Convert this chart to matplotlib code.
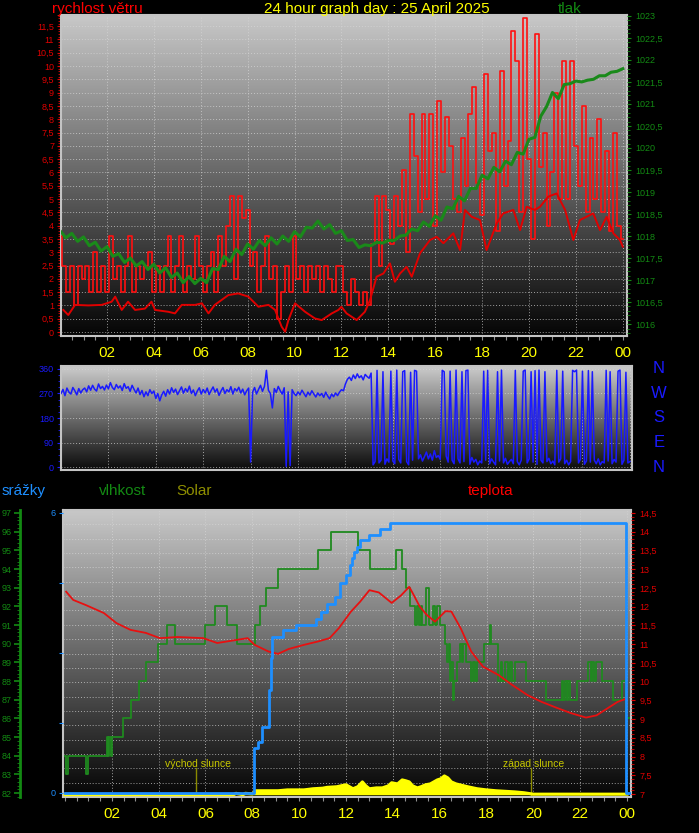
"""
24 hour weather station graph: wind, pressure, wind direction, rain, humidity, temperature, solar.
"""

import numpy as np
import matplotlib
matplotlib.use('Agg')
import matplotlib.pyplot as plt
from matplotlib.colors import LinearSegmentedColormap
from matplotlib.ticker import MultipleLocator, FuncFormatter, FixedLocator
from matplotlib.transforms import blended_transform_factory

plt.rcParams['font.family'] = ['Liberation Sans', 'DejaVu Sans']

W, H = 699, 833

# ---------------- data ----------------
# wind gusts, one value every 10 minutes, 00:00 .. 24:00
gust = [3.6, 2.5, 1.5, 2.5, 1.0, 2.5,
        2.0, 2.5, 1.5, 3.0, 1.5, 2.5,
        1.5, 3.6, 2.0, 2.5, 1.5, 2.5,
        3.6, 1.5, 2.5, 2.0, 2.5, 3.0,
        1.5, 2.5, 1.5, 2.5, 3.6, 1.5,
        2.5, 3.6, 1.5, 2.5, 2.0, 3.6,
        2.5, 1.5, 2.5, 3.0, 1.5, 3.6,
        2.5, 4.0, 5.1, 2.0, 5.1, 4.3,
        4.6, 2.5, 3.0, 1.5, 2.5, 3.6,
        2.0, 2.5, 0.5, 1.5, 2.5, 1.5,
        3.6, 2.0, 2.5, 1.5, 2.5, 2.0,
        2.5, 1.5, 2.5, 2.0, 1.5, 2.5,
        2.5, 1.5, 1.0, 2.0, 1.5, 1.0,
        1.5, 1.0, 3.3, 5.1, 2.5, 5.1,
        4.6, 3.3, 5.1, 4.0, 6.1, 3.0,
        8.2, 6.6, 4.5, 8.2, 5.0, 8.2,
        4.0, 8.7, 6.0, 8.1, 7.0, 5.0,
        4.5, 7.3, 5.5, 8.2, 9.2, 5.6,
        4.4, 9.7, 6.8, 7.5, 3.8, 9.8,
        5.5, 7.2, 11.3, 10.2, 4.5, 11.8,
        6.5, 3.5, 11.2, 6.2, 7.5, 4.0,
        6.0, 9.0, 5.0, 10.2, 5.0, 10.2,
        7.0, 5.5, 8.5, 4.5, 7.3, 5.0,
        8.0, 4.5, 6.8, 3.8, 7.5, 4.0,
        3.5]

# average wind speed
avg_hours = [0.14, 0.35, 0.64, 1.2, 1.78, 2.2, 2.35, 2.63, 2.9, 3.2, 3.62, 3.9, 4.05,
             4.62, 4.9, 5.19, 5.76, 6.05, 6.33, 6.6, 7.18, 7.6, 8.03, 8.46, 8.89, 9.17,
             9.45, 9.6, 9.74, 10.02, 10.45, 10.87, 11.16, 11.59, 11.87, 12.0, 12.22,
             12.65, 13.0, 13.22, 13.5, 13.79, 14.07, 14.28, 14.5, 14.78, 15.0, 15.35,
             15.78, 16.06, 16.35, 16.77, 17.06, 17.27, 17.56, 17.91, 18.19, 18.62, 18.9,
             19.33, 19.62, 19.9, 20.25, 20.47, 20.82, 21.18, 21.54, 21.89, 22.17, 22.74,
             23.03, 23.31, 23.6, 23.88, 24.0]
avg_speed = [0.83, 0.64, 1.02, 1.0, 1.02, 1.14, 1.33, 0.83, 1.14, 0.83, 0.88, 1.14, 0.83,
             0.76, 0.7, 1.02, 1.02, 1.08, 0.7, 1.02, 1.39, 1.45, 1.33, 0.95, 1.02, 0.83,
             0.2, 0.01, 0.45, 1.08, 0.76, 0.51, 0.45, 0.7, 0.83, 0.95, 0.7,
             0.45, 0.76, 1.2, 2.08, 2.2, 2.58, 1.89, 2.2, 2.45, 2.08, 2.96,
             3.46, 3.58, 3.34, 3.71, 3.08, 4.59, 4.33, 4.21, 3.08, 4.08, 4.46,
             4.59, 3.83, 4.71, 4.59, 4.71, 5.09, 5.21, 4.59, 3.46, 4.21, 4.46,
             3.83, 4.33, 3.71, 3.46, 3.21]

# pressure, one value every 15 minutes
pressure = [1018.12, 1017.96, 1018.06, 1017.88, 1017.98, 1017.78, 1017.86, 1017.66,
            1017.76, 1017.54, 1017.60, 1017.40, 1017.50, 1017.32, 1017.42, 1017.24,
            1017.36, 1017.16, 1017.28, 1017.06, 1017.16, 1016.94, 1017.08, 1016.92,
            1017.04, 1016.94, 1017.26, 1017.24, 1017.54, 1017.42, 1017.70, 1017.58,
            1017.82, 1017.70, 1017.90, 1017.78, 1017.96, 1017.82, 1018.00, 1017.88,
            1018.10, 1017.98, 1018.20, 1018.18, 1018.34, 1018.16, 1018.26, 1018.06,
            1018.12, 1017.90, 1017.92, 1017.74, 1017.80, 1017.78, 1017.86, 1017.84,
            1017.90, 1017.90, 1018.00, 1018.02, 1018.16, 1018.12, 1018.32, 1018.22,
            1018.46, 1018.36, 1018.66, 1018.62, 1018.90, 1018.80, 1019.08, 1019.08,
            1019.38, 1019.30, 1019.56, 1019.46, 1019.70, 1019.62, 1019.90, 1019.86,
            1020.20, 1020.24, 1020.72, 1020.94, 1021.26, 1021.12, 1021.44, 1021.46,
            1021.52, 1021.50, 1021.54, 1021.56, 1021.64, 1021.64, 1021.72, 1021.74,
            1021.80]

# wind direction in degrees, one value every 5 minutes
direction = [270, 285, 262, 290, 275, 268, 292, 280, 265, 288, 272, 284,
             290, 276, 298, 282, 300, 286, 279, 305, 288, 296, 283, 301,
             287, 310, 292, 284, 303, 290, 298, 281, 306, 289, 295, 278,
             300, 285, 272, 290, 266, 281, 258, 276, 262, 284, 270, 279,
             252, 270, 243, 265, 278, 260, 284, 268, 291, 274, 286, 266,
             280, 294, 271, 288, 276, 297, 270, 283, 262, 279, 291, 268,
             285, 272, 290, 266, 281, 294, 275, 287, 263, 279, 292, 270,
             284, 276, 295, 268, 288, 279, 293, 272, 286, 265, 280, 290,
             18, 275, 292, 268, 285, 300, 278, 296, 355, 282, 270, 217,
             288, 274, 296, 280, 268, 291, 2, 276, 5, 284, 270, 262,
             276, 265, 282, 270, 258, 275, 264, 280, 268, 257, 272, 262,
             270, 256, 275, 261, 250, 268, 258, 272, 262, 275, 284, 280,
             305, 322, 330, 318, 338, 325, 342, 328, 335, 320, 340, 332,
             326, 345, 8, 20, 355, 15, 25, 350, 10, 30, 18, 352,
             22, 12, 356, 28, 15, 350, 354, 20, 8, 348, 25, 355,
             352, 30, 45, 22, 38, 55, 30, 48, 25, 60, 35, 42,
             28, 355, 350, 40, 18, 352, 25, 12, 356, 30, 15, 350,
             20, 354, 356, 10, 35, 18, 28, 8, 22, 15, 352, 25,
             355, 12, 30, 18, 8, 350, 22, 356, 15, 32, 10, 20,
             28, 12, 355, 20, 8, 25, 352, 356, 15, 30, 350, 18,
             354, 10, 356, 25, 15, 350, 20, 32, 12, 22, 8, 355,
             18, 30, 352, 12, 25, 8, 20, 355, 350, 356, 15, 28,
             352, 10, 22, 354, 18, 350, 25, 12, 30, 8, 20, 15,
             355, 22, 350, 12, 28, 18, 352, 356, 10, 25, 348, 15,
             20]

# humidity (%), value holds from the given hour on
hum_hours = [0.0, 0.05, 0.12, 0.9, 1.0, 1.8, 1.85, 1.9, 1.95, 2.0,
             2.46, 2.8, 3.16, 3.44, 3.97, 4.34, 4.7, 5.97, 6.39, 6.9,
             7.35, 8.1, 8.33, 8.57, 9.08, 10.8, 11.37, 12.5, 13.03, 14.15,
             14.4, 14.55, 14.75, 14.94, 15.05, 15.1, 15.2, 15.25, 15.4, 15.55,
             15.7, 15.8, 15.9, 16.0, 16.23, 16.3, 16.38, 16.45, 16.5, 16.57,
             16.62, 16.72, 16.88, 16.95, 17.0, 17.11, 17.35, 17.42, 17.5, 17.58,
             17.89, 18.15, 18.2, 18.51, 18.6, 18.68, 18.78, 18.9, 19.0, 19.1,
             19.2, 19.68, 20.53, 21.23, 21.28, 21.35, 21.42, 21.5, 21.58, 21.85,
             22.32, 22.45, 22.52, 22.6, 22.68, 22.94, 23.41, 23.8, 23.95, 24.1]
hum_vals = [84, 83, 84, 83, 84, 85, 84, 85, 84, 85,
            86, 87, 88, 89, 90, 91, 90, 91, 92, 91,
            90, 91, 92, 93, 94, 95, 96, 95, 94, 95,
            94, 93, 92, 91, 92, 91, 92, 91, 93, 91,
            92, 91, 92, 91, 90, 89, 90, 88, 89, 87,
            88, 89, 90, 89, 90, 89, 88, 89, 88, 89,
            90, 91, 90, 88, 89, 88, 89, 88, 89, 88,
            89, 88, 87, 88, 87, 88, 87, 88, 87, 88,
            89, 88, 89, 88, 89, 88, 87, 88, 86, 86]

# temperature (deg C)
temp_hours = [0.05, 0.35, 0.9, 1.66, 2.2, 2.8, 3.45, 4.05, 4.8, 5.9,
              6.5, 7.2, 7.8, 8.1, 8.7, 9.1, 9.55, 10.2, 10.8, 11.3,
              11.7, 12.2, 12.6, 13.0, 13.4, 13.95, 14.35, 14.7, 14.9, 15.15,
              15.45, 15.8, 16.25, 16.5, 16.9, 17.35, 17.85, 18.5, 19.1, 19.75,
              20.35, 21.0, 21.6, 22.25, 22.7, 23.2, 23.6, 24.0]
temp_vals = [12.4, 12.18, 12.04, 11.83, 11.56, 11.38, 11.3, 11.16, 11.19, 11.16,
             11.03, 11.1, 11.16, 10.98, 10.8, 10.74, 10.87, 10.98, 11.07, 11.16,
             11.43, 11.86, 12.13, 12.44, 12.38, 12.1, 12.3, 12.53, 12.3, 12.0,
             11.78, 11.6, 11.88, 11.87, 11.42, 10.8, 10.4, 10.18, 9.91, 9.64,
             9.46, 9.3, 9.16, 9.04, 9.1, 9.3, 9.46, 9.55]

# cumulative rain (mm), value holds from the given hour on
rain_hours = [0.0, 8.05, 8.25, 8.4, 8.7, 8.78, 8.85, 9.3, 9.85, 10.7, 10.95, 11.2,
              11.55, 11.75, 12.0, 12.15, 12.25, 12.33, 12.45, 12.6, 13.0, 13.45,
              13.9, 23.95, 24.2]
rain_vals = [0.0, 0.96, 1.1, 1.42, 2.2, 2.9, 3.35, 3.49, 3.6, 3.73, 3.88, 4.06,
             4.21, 4.49, 4.67, 4.89, 5.04, 5.17, 5.28, 5.42, 5.53, 5.66,
             5.79, 0.0, 0.0]

# solar radiation (W/m2)
solar_hours = [0, 7.2, 7.3, 7.6, 7.7, 8.0, 8.15, 8.5, 9.1, 9.5,
               9.85, 10.2, 10.6, 11.0, 11.2, 11.6, 12.0, 12.3, 12.5, 12.7,
               12.85, 13.0, 13.3, 13.55, 13.8, 13.95, 14.2, 14.4, 14.55, 14.7,
               14.85, 15.05, 15.2, 15.4, 15.6, 15.9, 16.05, 16.2, 16.35, 16.5,
               16.7, 16.85, 17.2, 17.6, 18.0, 18.4, 18.8, 19.2, 19.6, 20.0, 24.0]
solar_vals = [0, 0, 5, 0, 5, 3, 14, 14, 14, 17,
              17, 17, 21, 23, 26, 28, 35, 21, 28, 45,
              31, 21, 24, 24, 31, 42, 38, 52, 49, 45,
              31, 24, 28, 35, 38, 52, 56, 66, 59, 45,
              38, 35, 28, 21, 17, 14, 12, 10, 7, 2, 2]

sunrise = 5.6
sunset = 19.9
hour_labels = ['02', '04', '06', '08', '10', '12', '14', '16', '18', '20', '22', '00']

RED = '#e00000'
GREEN = '#138a13'
BLUE = '#1a1aff'
RAINBLUE = '#1e8fff'
YELLOW = '#ffff00'


def px_rect(left, top, right, bottom):
    return [left / W, 1 - bottom / H, (right - left) / W, (bottom - top) / H]


def comma(v, pos):
    return ('%g' % round(v, 2)).replace('.', ',')


def gradient(ax, top='#c8c8c8', bottom='#050505'):
    cmap = LinearSegmentedColormap.from_list('bg', [bottom, top])
    ax.imshow(np.linspace(0, 1, 256).reshape(-1, 1), extent=[0, 1, 0, 1],
              transform=ax.transAxes, origin='lower', aspect='auto', cmap=cmap,
              zorder=0, interpolation='bilinear')
    ax.set_facecolor('black')
    for s in ax.spines.values():
        s.set_color('#c4c4c4')
        s.set_linewidth(1.5)


def hour_axis(ax, xlim, labels=True):
    ax.set_xlim(*xlim)
    ax.xaxis.set_major_locator(FixedLocator(range(2, 25, 2)))
    ax.xaxis.set_minor_locator(MultipleLocator(0.5))
    if labels:
        ax.set_xticklabels(hour_labels)
    else:
        ax.set_xticklabels([])
    ax.tick_params(axis='x', which='both', colors='#909090', length=3, width=0.8,
                   labelcolor=YELLOW, labelsize=11, pad=4)


def overlay(rect, xlim):
    ax = fig.add_axes(rect)
    ax.patch.set_visible(False)
    ax.xaxis.set_visible(False)
    ax.set_xlim(*xlim)
    for s in ax.spines.values():
        s.set_visible(False)
    return ax


def grid_lines(ax):
    ax.grid(True, which='major', color='#d8d8d8', ls=(0, (1, 2)), lw=0.7, alpha=0.7)
    ax.set_axisbelow(True)


fig = plt.figure(figsize=(W / 100, H / 100), dpi=100, facecolor='black')

# ---------------- panel 1: wind speed and pressure ----------------
r1 = px_rect(61, 15, 627, 336)
x1 = (0.04, 24.18)
ax1 = fig.add_axes(r1)
gradient(ax1)
hour_axis(ax1, x1)
ax1.set_ylim(-0.15, 11.92)
ax1.yaxis.set_major_locator(MultipleLocator(0.5))
ax1.yaxis.set_minor_locator(MultipleLocator(0.1))
ax1.yaxis.set_major_formatter(FuncFormatter(comma))
ax1.tick_params(axis='y', which='both', colors=RED, labelsize=6.5, pad=2)
ax1.tick_params(axis='y', which='major', length=3)
ax1.tick_params(axis='y', which='minor', length=2)
grid_lines(ax1)

gust_hours = np.arange(len(gust)) / 6.0
ax1.plot(gust_hours, gust, color='#ff1010', lw=1.2, drawstyle='steps-mid', zorder=3)
ax1.plot(avg_hours, avg_speed, color=RED, lw=1.4, zorder=4)

ax1p = overlay(r1, x1)
ax1p.set_ylim(1015.73, 1023.02)
ax1p.yaxis.tick_right()
ax1p.yaxis.set_major_locator(MultipleLocator(0.5))
ax1p.yaxis.set_minor_locator(MultipleLocator(0.1))
ax1p.yaxis.set_major_formatter(FuncFormatter(comma))
ax1p.tick_params(axis='y', which='both', colors=GREEN, labelsize=6.5, pad=3)
ax1p.tick_params(axis='y', which='major', length=3)
ax1p.tick_params(axis='y', which='minor', length=2)
pressure_hours = np.arange(len(pressure)) / 4.0
ax1p.plot(pressure_hours, pressure, color='#1a8a1a', lw=2.2)

fig.text(52 / W, 1 - 9 / H, 'rychlost větru', color='#ff0000', fontsize=11,
         ha='left', va='center')
fig.text(377 / W, 1 - 9 / H, '24 hour graph day : 25 April 2025', color=YELLOW,
         fontsize=11, ha='center', va='center')
fig.text(570 / W, 1 - 9 / H, 'tlak', color=GREEN, fontsize=11, ha='center', va='center')

# ---------------- panel 2: wind direction ----------------
r2 = px_rect(61, 366, 632, 470)
x2 = (0.0, 24.09)
ax2 = fig.add_axes(r2)
gradient(ax2, top='#cccccc', bottom='#0a0a0a')
hour_axis(ax2, x2, labels=False)
ax2.tick_params(axis='x', which='both', length=0)
ax2.set_ylim(-11, 371)
ax2.yaxis.set_major_locator(FixedLocator([0, 90, 180, 270, 360]))
ax2.yaxis.set_minor_locator(MultipleLocator(22.5))
ax2.tick_params(axis='y', which='both', colors=BLUE, labelsize=6.5, pad=2)
ax2.tick_params(axis='y', which='major', length=3)
ax2.tick_params(axis='y', which='minor', length=2)
grid_lines(ax2)
dir_hours = np.arange(len(direction)) / 12.0
ax2.plot(dir_hours, direction, color=BLUE, lw=1.1, zorder=3)

trans2 = blended_transform_factory(ax2.transAxes, ax2.transData)
for lab, val in zip(['N', 'W', 'S', 'E', 'N'], [360, 270, 180, 90, 0]):
    ax2.text(1.047, val, lab, transform=trans2, color=BLUE, fontsize=12,
             ha='center', va='center')

# ---------------- panel 3: rain, humidity, solar, temperature ----------------
r3 = px_rect(63, 510, 631, 797)
x3 = (-0.085, 24.17)
rain_lim = (-0.086, 6.064)
ax3 = fig.add_axes(r3)
gradient(ax3)
hour_axis(ax3, x3)
ax3.set_ylim(*rain_lim)
ax3.set_yticks(np.linspace(rain_lim[0], rain_lim[1], 21)[1:-1])
ax3.tick_params(axis='y', which='both', left=False, labelleft=False)
grid_lines(ax3)

for t, lab in [(sunrise, 'východ slunce'), (sunset, 'západ slunce')]:
    ax3.axvline(t, ymin=0, ymax=0.1, color='#8a8a00', lw=1, zorder=1)
    ax3.text(t + 0.1, 0.115, lab, transform=blended_transform_factory(ax3.transData, ax3.transAxes),
             color='#c8c800', fontsize=7.5, ha='center', va='center', zorder=1)

axs = overlay(r3, x3)
axs.set_ylim(-8, 1000)
axs.yaxis.set_visible(False)
axs.fill_between(solar_hours, 0, solar_vals, color=YELLOW, lw=0)
axs.plot(solar_hours, solar_vals, color=YELLOW, lw=2.2)

axh = overlay(r3, x3)
axh.set_ylim(81.79, 97.16)
axh.spines['left'].set_visible(True)
axh.spines['left'].set_position(('outward', 31))
axh.spines['left'].set_color(GREEN)
axh.spines['left'].set_linewidth(2)
axh.yaxis.tick_left()
axh.yaxis.set_major_locator(MultipleLocator(1))
axh.yaxis.set_minor_locator(MultipleLocator(0.2))
axh.tick_params(axis='y', which='both', colors=GREEN, labelsize=6.5, pad=2)
axh.tick_params(axis='y', which='major', length=4, width=1.2)
axh.tick_params(axis='y', which='minor', length=2)
axh.plot(hum_hours, hum_vals, color='#1f8a1f', lw=1.3, drawstyle='steps-post')

axt = overlay(r3, x3)
axt.set_ylim(6.92, 14.58)
axt.yaxis.tick_right()
axt.yaxis.set_major_locator(MultipleLocator(0.5))
axt.yaxis.set_minor_locator(MultipleLocator(0.1))
axt.yaxis.set_major_formatter(FuncFormatter(comma))
axt.tick_params(axis='y', which='both', colors=RED, labelsize=6.5, pad=3)
axt.tick_params(axis='y', which='major', length=3)
axt.tick_params(axis='y', which='minor', length=2)
axt.plot(temp_hours, temp_vals, color='#e81010', lw=1.3)

axr = overlay(r3, x3)
axr.set_ylim(*rain_lim)
axr.yaxis.tick_left()
axr.set_yticks([0, 1.5, 3, 4.5, 6])
axr.set_yticklabels(['0', '', '', '', '6'])
axr.tick_params(axis='y', colors=RAINBLUE, labelsize=6.5, length=3, pad=2)
axr.plot(rain_hours, rain_vals, color=RAINBLUE, lw=2, drawstyle='steps-post')

fig.text(2 / W, 1 - 491 / H, 'srážky', color=RAINBLUE, fontsize=11, ha='left', va='center')
fig.text(99 / W, 1 - 491 / H, 'vlhkost', color=GREEN, fontsize=11, ha='left', va='center')
fig.text(176 / W, 1 - 491 / H, 'Solar', color='#8f8f00', fontsize=11, ha='left', va='center')
fig.text(468 / W, 1 - 491 / H, 'teplota', color='#ff0000', fontsize=11, ha='left', va='center')

fig.savefig('out.png', dpi=100, facecolor='black')
